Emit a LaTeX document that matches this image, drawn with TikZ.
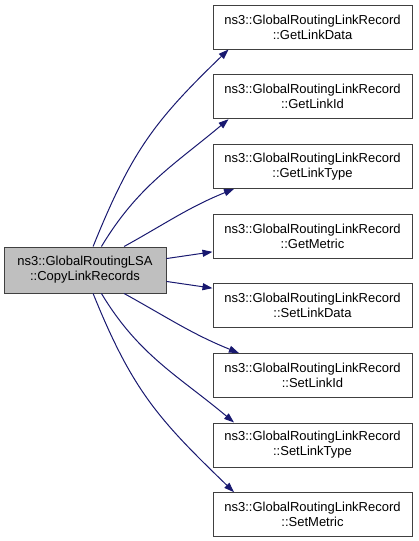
\documentclass[tikz,border=0pt]{standalone}
\usepackage{fontspec}
\setmainfont{Liberation Sans}
\usetikzlibrary{arrows.meta}
\definecolor{edgeblue}{RGB}{25,25,112}
\definecolor{boxgrey}{RGB}{191,191,191}

\begin{document}
\begin{tikzpicture} [x = 1pt, y = 1pt,
  fn/.style = {draw = black!75, line width = 1pt, inner sep = 0pt, align = center,
    minimum width = 199pt, minimum height = 44pt, font = \fontsize{13}{15}\selectfont},
  cur/.style = {fn, fill = boxgrey, minimum width = 162pt, minimum height = 46pt},
  call/.style = {draw = edgeblue, line width = 1pt, -{Triangle[length = 10pt, width = 7pt]}}]
\useasboundingbox (0,0) rectangle (419,-541);
\node[cur] (src) at (85,-270) {ns3::GlobalRoutingLSA\\::CopyLinkRecords};
\node[fn] (t1) at (312.5,-27.0) {ns3::GlobalRoutingLinkRecord\\::GetLinkData};
\node[fn] (t2) at (312.5,-96.7) {ns3::GlobalRoutingLinkRecord\\::GetLinkId};
\node[fn] (t3) at (312.5,-166.4) {ns3::GlobalRoutingLinkRecord\\::GetLinkType};
\node[fn] (t4) at (312.5,-236.0) {ns3::GlobalRoutingLinkRecord\\::GetMetric};
\node[fn] (t5) at (312.5,-305.8) {ns3::GlobalRoutingLinkRecord\\::SetLinkData};
\node[fn] (t6) at (312.5,-375.5) {ns3::GlobalRoutingLinkRecord\\::SetLinkId};
\node[fn] (t7) at (312.5,-445.0) {ns3::GlobalRoutingLinkRecord\\::SetLinkType};
\node[fn] (t8) at (312.5,-514.7) {ns3::GlobalRoutingLinkRecord\\::SetMetric};
% calls above
\draw[call] (src.71) to[out = 68, in = 224, looseness = 1.1] (t1.195.3);
\draw[call] (src.55) to[out = 59, in = 220] (t2.195.8);
\draw[call] (src.31) to[out = 29, in = 202] (t3.196.2);
\draw[call] (src.8.4) -- (t4.189.7);
% calls below
\draw[call] (src.-8.4) -- (t5.170.9);
\draw[call] (src.-31) to[out = -29, in = 158] (t6.163.3);
\draw[call] (src.-55) to[out = -59, in = 140] (t7.164.2);
\draw[call] (src.-71) to[out = -68, in = 136, looseness = 1.1] (t8.164.7);
\end{tikzpicture}
\end{document}
